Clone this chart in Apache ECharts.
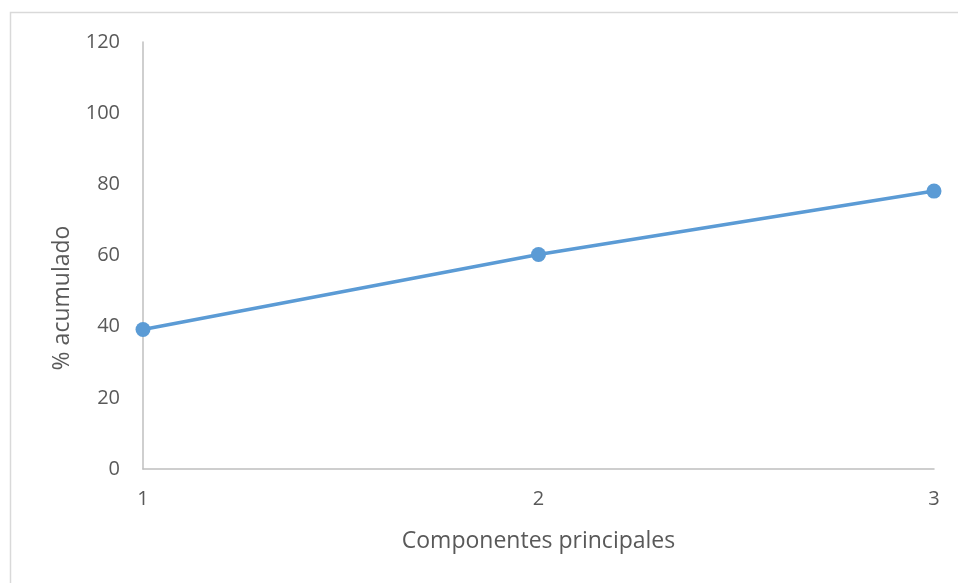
<!DOCTYPE html>
<html>
<head>
<meta charset="utf-8">
<script src="https://cdn.jsdelivr.net/npm/echarts@6/dist/echarts.min.js"></script>
<style>
html,body{margin:0;padding:0;background:#fff;}
#c{width:958px;height:583px;}
</style>
</head>
<body>
<div id="c"></div>
<script>
const categories = ['1', '2', '3'];
const cumulativePct = [39.2, 60.3, 78.1];
const yTicks = [0, 20, 40, 60, 80, 100, 120];
const xTitle = 'Componentes principales';
const yTitle = '% acumulado';

const chart = echarts.init(document.getElementById('c'), null, {renderer: 'canvas'});
const font = '"Open Sans", "Liberation Sans", sans-serif';
chart.setOption({
  backgroundColor: '#fff',
  animation: false,
  graphic: [{
    type: 'rect',
    shape: {x: 10.5, y: 12.5, width: 1000, height: 1000},
    style: {fill: 'none', stroke: '#D9D9D9', lineWidth: 1.5},
    silent: true
  }, {
    type: 'text',
    x: 62,
    y: 298,
    rotation: Math.PI / 2,
    style: {
      text: yTitle,
      fill: '#595959',
      font: '23px ' + font,
      align: 'center',
      verticalAlign: 'middle'
    },
    silent: true
  }],
  grid: {left: 143, right: 24, top: 42, bottom: 114},
  xAxis: {
    type: 'category',
    data: categories,
    boundaryGap: false,
    name: xTitle,
    nameLocation: 'middle',
    nameGap: 61,
    nameTextStyle: {color: '#595959', fontSize: 23, fontFamily: font},
    axisLine: {lineStyle: {color: '#BFBFBF', width: 1.5}},
    axisTick: {show: false},
    axisLabel: {color: '#595959', fontSize: 20, fontFamily: font, margin: 20}
  },
  yAxis: {
    type: 'value',
    min: yTicks[0],
    max: yTicks[yTicks.length - 1],
    interval: 20,
    axisLine: {show: true, lineStyle: {color: '#BFBFBF', width: 1.5}},
    axisTick: {show: false},
    splitLine: {show: false},
    axisLabel: {color: '#595959', fontSize: 20, fontFamily: font, margin: 23}
  },
  series: [{
    type: 'line',
    data: cumulativePct,
    symbol: 'circle',
    symbolSize: 15,
    lineStyle: {color: '#5B9BD5', width: 3.5},
    itemStyle: {color: '#5B9BD5'}
  }]
});
</script>
</body>
</html>
